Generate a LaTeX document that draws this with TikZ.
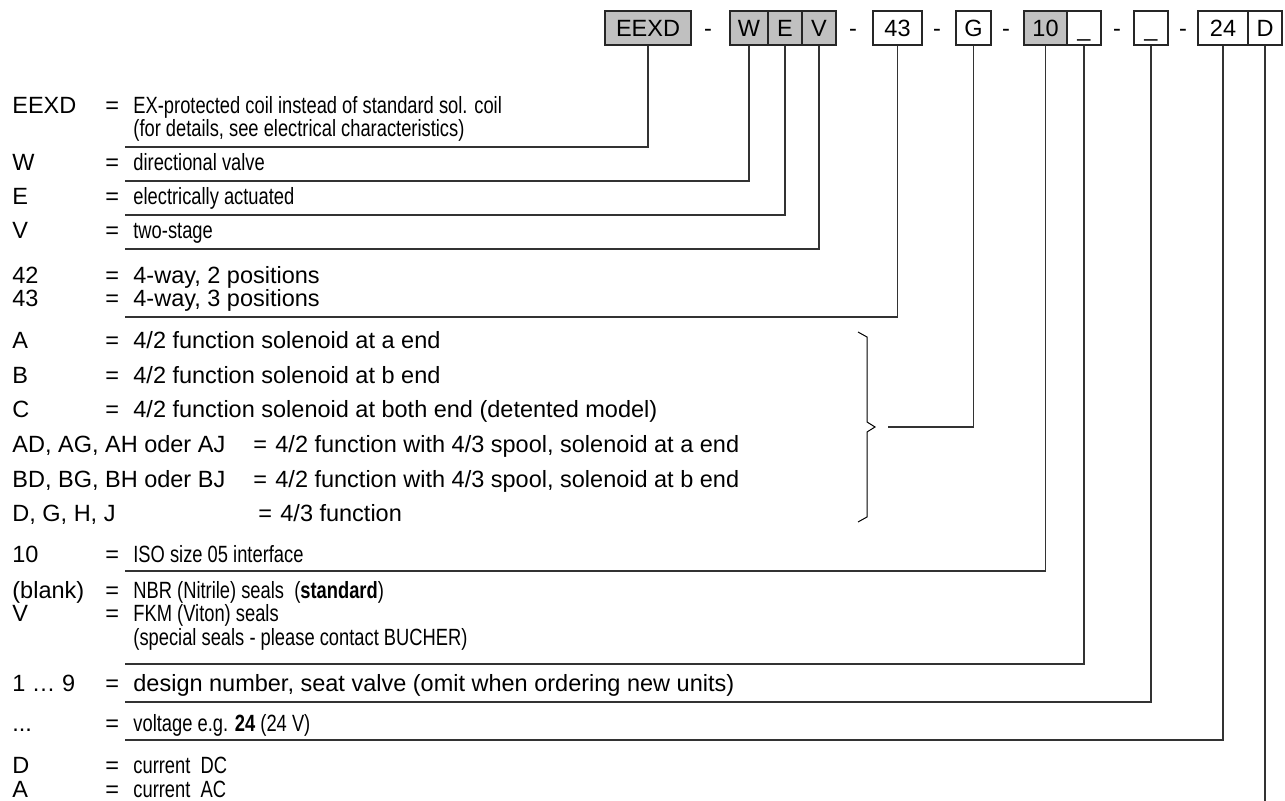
\documentclass[tikz,border=0pt]{standalone}
\usepackage{fontspec}
\setmainfont{Liberation Sans}
\newfontfamily\narrowfont[FakeStretch=0.78]{Liberation Sans}
\usetikzlibrary{calc}
\newcommand{\pxsize}{0.5pt}
\definecolor{codegray}{RGB}{192,192,192}
\tikzset{codebox/.style={draw=black!85,line width=0.6pt,fill=#1,inner sep=0pt,minimum height=17pt,text height=8.4pt,text depth=0pt},codebox/.default=white}
\tikzset{sepdash/.style={inner sep=0pt,minimum height=17pt,text height=8.4pt,text depth=0pt}}
\tikzset{entry/.style={anchor=base west,inner sep=0pt}}
\tikzset{leader/.style={color=#1,line width=0.75pt},leader/.default=black!80}
% one line of the key: [font of meaning], name, baseline, code, meaning
\newcommand{\codeentry}[5][]{%
	\node [entry] (#2) at (12,#3) {#4};
	\node [entry] (#2-eq) at (105,#3) {=};
	\node [entry] (#2-txt) at (133,#3) {#1#5};}

\begin{document}
\begin{tikzpicture}[x=\pxsize,y=-\pxsize]
		\fontsize{11.75}{11.75}\selectfont
		\useasboundingbox (0,0) rectangle (1285,801);

		% the type code
		\node [codebox=codegray,minimum width=43pt] (eexd) at (648,28) {EEXD};
		\node [sepdash] (dash1) at (708,28) {-};
		\node [codebox=codegray,minimum width=19pt] (w) at (749,28) {W};
		\node [codebox=codegray,minimum width=17pt] (e) at (785,28) {E};
		\node [codebox=codegray,minimum width=17pt] (v) at (819,28) {V};
		\node [sepdash] (dash2) at (853,28) {-};
		\node [codebox,minimum width=24.5pt] (way) at (897.5,28) {43};
		\node [sepdash] (dash3) at (937,28) {-};
		\node [codebox,minimum width=17.5pt] (fn) at (973.5,28) {G};
		\node [sepdash] (dash4) at (1006,28) {-};
		\node [codebox=codegray,minimum width=21.5pt] (size) at (1045.5,28) {10};
		\node [codebox,minimum width=17pt] (seal) at (1084,28) {\_};
		\node [sepdash] (dash5) at (1117,28) {-};
		\node [codebox,minimum width=17pt] (design) at (1151,28) {\_};
		\node [sepdash] (dash6) at (1183,28) {-};
		\node [codebox,minimum width=25pt] (volt) at (1223,28) {24};
		\node [codebox,minimum width=17pt] (curr) at (1265,28) {D};

		% the key
		\codeentry[\narrowfont]{k-eexd}{114}{EEXD}{EX-protected coil instead of standard sol. coil}
		\node [entry] (k-eexd-txt2) at (133,137) {\narrowfont (for details, see electrical characteristics)};
		\codeentry[\narrowfont]{k-w}{171}{W}{directional valve}
		\codeentry[\narrowfont]{k-e}{205}{E}{electrically actuated}
		\codeentry[\narrowfont]{k-v}{239}{V}{two-stage}
		\codeentry{k-42}{284}{42}{4-way, 2 positions}
		\codeentry{k-43}{307}{43}{4-way, 3 positions}
		\codeentry{k-a}{349}{A}{4/2 function solenoid at a end}
		\codeentry{k-b}{384}{B}{4/2 function solenoid at b end}
		\codeentry{k-c}{418}{C}{4/2 function solenoid at both end (detented model)}
		\node [entry] (k-ad) at (12,453) {AD, AG, AH oder AJ};
		\node [entry] (k-ad-eq) at (253,453) {=};
		\node [entry] (k-ad-txt) at (275,453) {4/2 function with 4/3 spool, solenoid at a end};
		\node [entry] (k-bd) at (12,488) {BD, BG, BH oder BJ};
		\node [entry] (k-bd-eq) at (253,488) {=};
		\node [entry] (k-bd-txt) at (275,488) {4/2 function with 4/3 spool, solenoid at b end};
		\node [entry] (k-d) at (12,522) {D, G, H, J};
		\node [entry] (k-d-eq) at (258,522) {=};
		\node [entry] (k-d-txt) at (280,522) {4/3 function};
		\codeentry[\narrowfont]{k-10}{563}{10}{ISO size 05 interface}
		\codeentry[\narrowfont]{k-nbr}{599}{(blank)}{NBR (Nitrile) seals\ \ (\textbf{standard})}
		\codeentry[\narrowfont]{k-fkm}{622}{V}{FKM (Viton) seals}
		\node [entry] (k-fkm-txt2) at (133,646) {\narrowfont (special seals - please contact BUCHER)};
		\codeentry{k-des}{691}{1 … 9}{design number, seat valve (omit when ordering new units)}
		\codeentry[\narrowfont]{k-volt}{731}{...}{voltage e.g. \textbf{24} (24 V)}
		\codeentry[\narrowfont]{k-dc}{773}{D}{current\ \ DC}
		\codeentry[\narrowfont]{k-ac}{797}{A}{current\ \ AC}

		% ends of the leaders
		\coordinate (u-eexd) at (125,147);
		\coordinate (u-w) at (125,181);
		\coordinate (u-e) at (125,215);
		\coordinate (u-v) at (125,249);
		\coordinate (u-way) at (125,317);
		\coordinate (u-fn) at (888,427);
		\coordinate (u-size) at (125,571);
		\coordinate (u-seal) at (125,664);
		\coordinate (u-design) at (125,702);
		\coordinate (u-volt) at (125,740);
		\coordinate (u-curr) at (1265,801);

		\draw [leader] (eexd.south) |- (u-eexd);
		\draw [leader] (w.south) |- (u-w);
		\draw [leader] (e.south) |- (u-e);
		\draw [leader] (v.south) |- (u-v);
		\draw [leader] (way.south) |- (u-way);
		\draw [leader] (fn.south) |- (u-fn);
		\draw [leader] (size.south) |- (u-size);
		\draw [leader] (seal.south) |- (u-seal);
		\draw [leader] (design.south) |- (u-design);
		\draw [leader] (volt.south) |- (u-volt);
		\draw [leader] (curr.south) -- (u-curr);

		% brace for the function codes
		\draw [leader=black,line width=0.5pt]
			(858,332) -- (867,337) -- (867,422) -- (875,427) --
			(867,432) -- (867,517) -- (858,522);
	\end{tikzpicture}
\end{document}
